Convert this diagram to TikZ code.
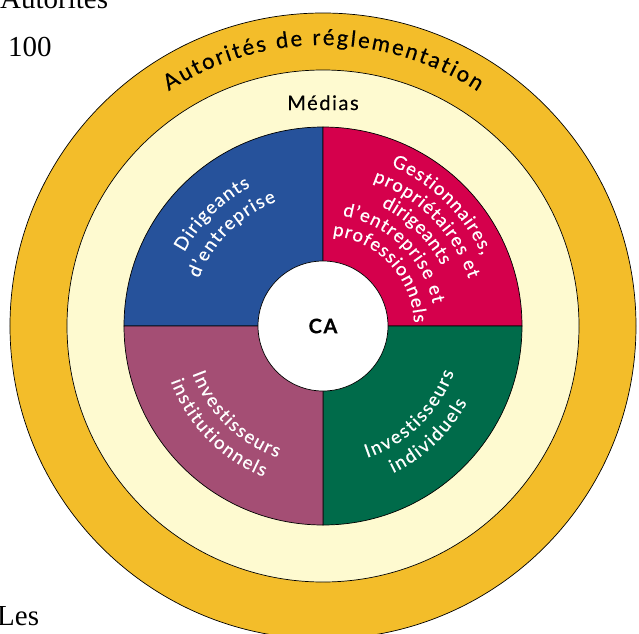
\documentclass[tikz,border=0pt]{standalone}
\usepackage{fontspec}
\setmainfont{Liberation Serif}
\newfontfamily\labelfont[FakeBold=0.5]{Lato}
\newfontfamily\spacedfont[LetterSpace=8,FakeBold=0.5]{Lato}
\usepackage{tikz}
\usetikzlibrary{decorations.text}

\definecolor{ringgold}{RGB}{243,189,42}
\definecolor{ringcream}{RGB}{254,250,208}
\definecolor{qblue}{RGB}{38,82,155}
\definecolor{qred}{RGB}{213,0,76}
\definecolor{qgreen}{RGB}{0,107,74}
\definecolor{qmauve}{RGB}{164,78,116}

\tikzset{ring/.style={draw=black,line width=0.7pt},
  hub/.style={circle,fill=white,draw=black,line width=0.7pt,minimum size=130pt,inner sep=0pt},
  arc label/.style={decorate,decoration={text along path,text align=fit to path}},
  page text/.style={anchor=base west,inner sep=0pt,font=\fontsize{29}{32}\selectfont},
}

\begin{document}
\begin{tikzpicture}[x=1pt,y=1pt]
\useasboundingbox (-323,-307) rectangle (316,326);

% rings
\fill[ringgold,ring] (0,0) circle (313);
\fill[ringcream,ring] (0,0) circle (256);

% the four quarters
\fill[qblue,ring] (0,0) -- (180:199) arc[start angle=180,end angle=90,radius=199] -- cycle;
\fill[qred,ring] (0,0) -- (90:199) arc[start angle=90,end angle=0,radius=199] -- cycle;
\fill[qgreen,ring] (0,0) -- (0:199) arc[start angle=0,end angle=-90,radius=199] -- cycle;
\fill[qmauve,ring] (0,0) -- (270:199) arc[start angle=270,end angle=180,radius=199] -- cycle;

\node[hub] (ca) at (0,0) {\spacedfont\bfseries\fontsize{20}{22}\selectfont CA};

% ring labels
\path[arc label,decoration={text={|\labelfont\fontsize{22}{24}\selectfont|Autorités de réglementation}}]
  (123.3:281) arc[start angle=123.3,end angle=56.6,radius=281];
\node[anchor=base,inner sep=0pt] (medias) at (0,216) {\spacedfont\fontsize{20}{22}\selectfont Médias};

% top left
\path[arc label,decoration={text={|\labelfont\fontsize{18.5}{20}\selectfont\color{white}|Dirigeants}}]
  (152:157) arc[start angle=152,end angle=117.5,radius=157];
\path[arc label,decoration={text={|\labelfont\fontsize{18.5}{20}\selectfont\color{white}|d’entreprise}}]
  (159:133) arc[start angle=159,end angle=110.5,radius=133];

% top right
\path[arc label,decoration={text={|\labelfont\fontsize{18.5}{20}\selectfont\color{white}|Gestionnaires,}}]
  (67:174) arc[start angle=67,end angle=24,radius=174];
\path[arc label,decoration={text={|\labelfont\fontsize{18.5}{20}\selectfont\color{white}|propriétaires et}}]
  (71:153) arc[start angle=71,end angle=18,radius=153];
\path[arc label,decoration={text={|\labelfont\fontsize{18.5}{20}\selectfont\color{white}|dirigeants}}]
  (64:133) arc[start angle=64,end angle=27,radius=133];
\path[arc label,decoration={text={|\labelfont\fontsize{18.5}{20}\selectfont\color{white}|d’entreprise et}}]
  (80:112) arc[start angle=80,end angle=11.5,radius=112];
\path[arc label,decoration={text={|\labelfont\fontsize{18.5}{20}\selectfont\color{white}|professionnels}}]
  (84:91) arc[start angle=84,end angle=2,radius=91];

% bottom left
\path[arc label,decoration={text={|\labelfont\fontsize{18.5}{20}\selectfont\color{white}|Investisseurs}}]
  (200:139) arc[start angle=200,end angle=251,radius=139];
\path[arc label,decoration={text={|\labelfont\fontsize{18.5}{20}\selectfont\color{white}|institutionnels}}]
  (200:162) arc[start angle=200,end angle=248.5,radius=162];

% bottom right
\path[arc label,decoration={text={|\labelfont\fontsize{18.5}{20}\selectfont\color{white}|Investisseurs}}]
  (-71.5:139) arc[start angle=-71.5,end angle=-19.5,radius=139];
\path[arc label,decoration={text={|\labelfont\fontsize{18.5}{20}\selectfont\color{white}|individuels}}]
  (-64.5:163) arc[start angle=-64.5,end angle=-28,radius=163];

% text of the page around it
\node[page text] (head) at (-323,318) {Autorités};
\node[page text] (num) at (-315,270) {100};
\node[page text] (les) at (-326,-299) {Les};
\end{tikzpicture}
\end{document}
